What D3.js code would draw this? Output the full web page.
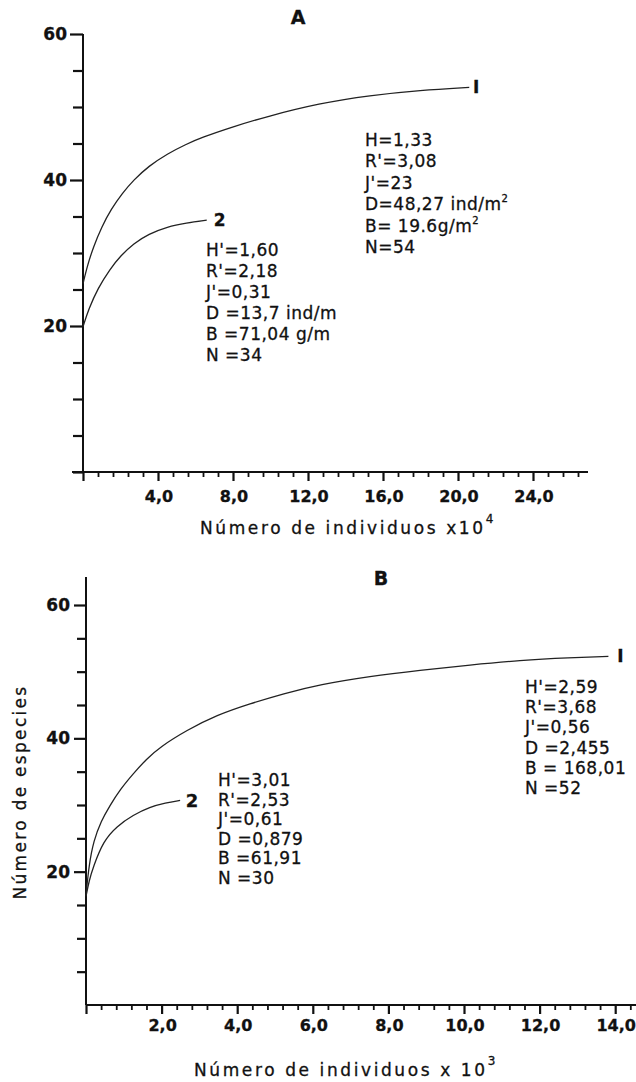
<!DOCTYPE html>
<html>
<head>
<meta charset="utf-8">
<script src="https://cdn.jsdelivr.net/npm/d3@7"></script>
<style>
  html, body { margin: 0; padding: 0; background: #fff; }
  svg text { font-family: "DejaVu Sans", sans-serif; fill: #111; stroke: #111; stroke-width: 0.3; }
</style>
</head>
<body>
<svg id="fig" width="636" height="1082"></svg>
<script>
// Species accumulation curves: number of species vs number of individuals

// Panel A (individuals x 10^4)
const curveA1 = [[0,25.8],[0.25,28.4],[0.55,30.8],[1.0,33.6],[1.5,36.0],[2.1,38.2],[2.7,40.0],[3.5,41.9],
                 [4.5,43.6],[5.5,44.9],[6.3,45.8],[8.0,47.3],[9.8,48.7],[12.6,50.5],[15.3,51.6],[18.0,52.3],[20.6,52.7]];
const curveA2 = [[0,19.9],[0.3,22.3],[0.8,25.2],[1.44,27.8],[2.0,29.6],[2.7,31.3],[3.5,32.6],[4.5,33.6],[5.5,34.1],[6.6,34.5]];
const statsA1 = ["H=1,33", "R'=3,08", "J'=23", "D=48,27 ind/m|2", "B= 19.6g/m|2", "N=54"];
const statsA2 = ["H'=1,60", "R'=2,18", "J'=0,31", "D =13,7 ind/m", "B =71,04 g/m", "N =34"];
const xTicksA = ["4,0", "8,0", "12,0", "16,0", "20,0", "24,0"];
const yTicksA = ["20", "40", "60"];

// Panel B (individuals x 10^3)
const curveB1 = [[0,16.5],[0.08,21.0],[0.2,24.6],[0.4,27.6],[0.63,29.9],[0.9,32.3],[1.25,34.7],[1.6,36.9],[1.96,38.7],
                 [2.66,41.2],[3.46,43.5],[4.34,45.2],[5.22,46.7],[6.19,48.1],[7.51,49.3],[8.84,50.2],[10.16,51.0],
                 [11.48,51.7],[12.8,52.1],[13.82,52.3]];
const curveB2 = [[0,16.3],[0.08,18.6],[0.19,20.7],[0.46,24.6],[0.81,26.8],[1.25,28.5],[1.69,29.7],[2.1,30.3],[2.49,30.7]];
const statsB1 = ["H'=2,59", "R'=3,68", "J'=0,56", "D =2,455", "B = 168,01", "N =52"];
const statsB2 = ["H'=3,01", "R'=2,53", "J'=0,61", "D =0,879", "B =61,91", "N =30"];
const xTicksB = ["2,0", "4,0", "6,0", "8,0", "10,0", "12,0", "14,0"];
const yTicksB = ["20", "40", "60"];

const svg = d3.select("#fig");
svg.append("rect").attr("width", 636).attr("height", 1082).attr("fill", "#fff");

function drawPanel(p) {
  const g = svg.append("g");
  const x = d3.scaleLinear().domain([0, p.xMax]).range([p.x0, p.x1]);
  const y = d3.scaleLinear().domain([0, 60]).range([p.y0, p.y60]);

  // y axis
  const yVals = d3.range(p.yTickStart, 61, 5);
  const yAxis = g.append("g").attr("transform", `translate(${p.x0},0)`)
    .call(d3.axisLeft(y).tickValues(yVals).tickSize(p.yTick).tickFormat(() => ""));
  yAxis.select(".domain").attr("d", `M0,${p.y0}V${y(p.yTop)}`);
  yAxis.selectAll("line").attr("stroke", "#111").attr("stroke-width", 2.2);
  yAxis.select(".domain").attr("stroke", "#111").attr("stroke-width", 2);
  yAxis.selectAll(".tick line").filter(d => d % 20 === 0 && d > 0).attr("x2", -p.yTick - 3);
  p.yLabels.forEach(t => {
    g.append("text").attr("x", p.x0 - 16).attr("y", y(+t)).attr("text-anchor", "end")
      .attr("dominant-baseline", "central").attr("font-size", 17).attr("font-weight", "bold").text(t);
  });

  // x axis
  const n = Math.round(p.xTickEnd / p.xStep);
  const xVals = d3.range(0, n + 1).map(i => +(i * p.xStep).toFixed(2));
  const xAxis = g.append("g").attr("transform", `translate(0,${p.y0})`)
    .call(d3.axisBottom(x).tickValues(xVals).tickSize(5).tickFormat(() => ""));
  xAxis.select(".domain").attr("d", `M${p.xStart},0H${p.xEnd}`).attr("stroke", "#111").attr("stroke-width", 2);
  xAxis.selectAll(".tick line").attr("stroke", "#111").attr("stroke-width", 1.8)
    .filter((d, i) => i % 5 === 0).attr("y2", 9).attr("stroke-width", 2.2);
  p.xLabels.forEach((t, i) => {
    const v = (i + 1) * p.xStep * 5;
    g.append("text").attr("x", x(v) + 1).attr("y", p.y0 + p.xLabelDy).attr("text-anchor", "middle")
      .attr("dominant-baseline", "central").attr("font-size", 16).attr("font-weight", "bold").text(t);
  });

  // x axis title with superscript exponent
  const xt = g.append("text").attr("x", p.xTitleX).attr("y", p.xTitleY).attr("dominant-baseline", "central")
    .attr("font-size", 17).attr("letter-spacing", 2.6);
  xt.append("tspan").text(p.xTitle);
  xt.append("tspan").attr("dy", -9).attr("font-size", 12).text(p.xExp);

  // panel letter
  g.append("text").attr("x", p.letterX).attr("y", p.letterY).attr("text-anchor", "middle")
    .attr("dominant-baseline", "central").attr("font-size", 19).attr("font-weight", "bold").text(p.letter);

  // curves
  const line = d3.line().x(d => x(d[0])).y(d => y(d[1])).curve(d3.curveBasis);
  p.curves.forEach(c => {
    g.append("path").attr("d", line(c.data)).attr("fill", "none").attr("stroke", "#222").attr("stroke-width", 1.3);
    const last = c.data[c.data.length - 1];
    g.append("text").attr("x", x(last[0]) + c.labelDx).attr("y", y(last[1])).attr("text-anchor", "middle")
      .attr("dominant-baseline", "central").attr("font-size", c.labelSize).attr("font-weight", "bold").text(c.label);
    c.stats.forEach((s, i) => {
      const parts = s.split("|");
      const t = g.append("text").attr("x", c.statsX).attr("y", c.statsY + i * c.statsGap)
        .attr("dominant-baseline", "central").attr("font-size", 17).attr("letter-spacing", 0.5);
      t.append("tspan").text(parts[0]);
      if (parts[1]) t.append("tspan").attr("dy", -6).attr("font-size", 10).text(parts[1]);
    });
  });
}

drawPanel({
  letter: "A", letterX: 298, letterY: 17,
  x0: 83, x1: 83 + 18.75 * 27, xMax: 27, xStart: 72, xEnd: 588,
  y0: 472, y60: 34, yTop: 60, yTick: 10, yTickStart: 0,
  xStep: 0.8, xTickEnd: 26.4, xLabelDy: 24, xLabels: xTicksA, yLabels: yTicksA,
  xTitle: "Número de individuos x10", xExp: "4", xTitleX: 200, xTitleY: 528,
  curves: [
    { data: curveA1, label: "I", labelDx: 7, labelSize: 17, stats: statsA1, statsX: 365, statsY: 140, statsGap: 21.4 },
    { data: curveA2, label: "2", labelDx: 13, labelSize: 17, stats: statsA2, statsX: 206, statsY: 250, statsGap: 21 }
  ]
});

drawPanel({
  letter: "B", letterX: 381, letterY: 578,
  x0: 86, x1: 86 + 37.8 * 15, xMax: 15, xStart: 86, xEnd: 640,
  y0: 1005, y60: 605, yTop: 64.2, yTick: 9, yTickStart: 5,
  xStep: 0.4, xTickEnd: 14.4, xLabelDy: 20, xLabels: xTicksB, yLabels: yTicksB,
  xTitle: "Número de individuos x 10", xExp: "3", xTitleX: 194, xTitleY: 1070,
  curves: [
    { data: curveB1, label: "I", labelDx: 12, labelSize: 17, stats: statsB1, statsX: 525, statsY: 687, statsGap: 20.2 },
    { data: curveB2, label: "2", labelDx: 12, labelSize: 18, stats: statsB2, statsX: 218, statsY: 780, statsGap: 19.6 }
  ]
});

// y axis title of panel B
svg.append("text").attr("transform", "translate(20,792) rotate(-90)").attr("text-anchor", "middle")
  .attr("dominant-baseline", "central").attr("font-size", 17).attr("letter-spacing", 2.3).text("Número de especies");
</script>
</body>
</html>
